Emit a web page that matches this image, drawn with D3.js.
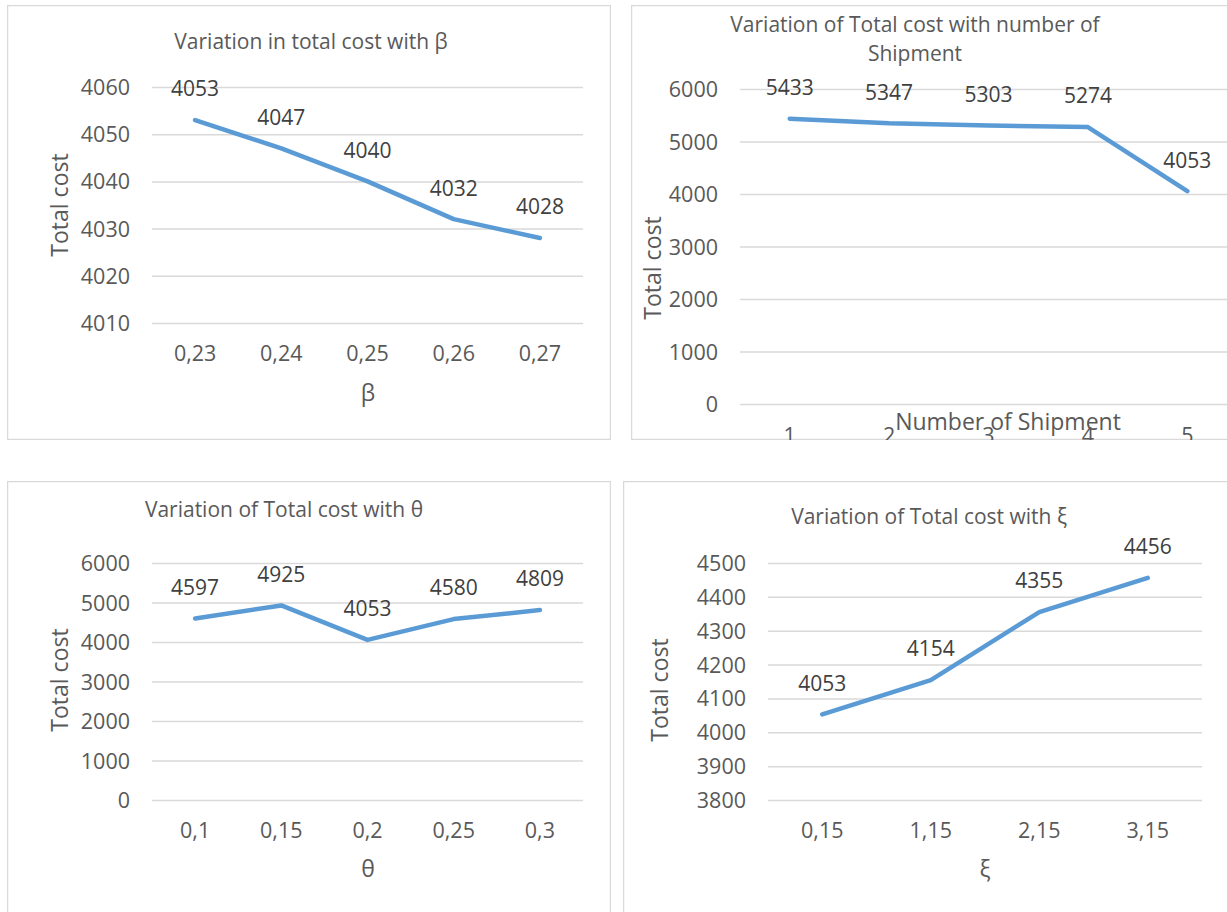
<!DOCTYPE html>
<html>
<head>
<meta charset="utf-8">
<script src="https://cdn.jsdelivr.net/npm/d3@7"></script>
<style>
  html, body { margin: 0; padding: 0; background: #fff; }
  svg { display: block; }
  text { font-family: "Open Sans", "Noto Sans", sans-serif; }
</style>
</head>
<body>
<svg id="chart" width="1227" height="912"></svg>
<script>
// ---------- DATA ----------
const betaCats = ["0,23", "0,24", "0,25", "0,26", "0,27"];
const betaCost = [4053, 4047, 4040, 4032, 4028];
const betaTicks = [4010, 4020, 4030, 4040, 4050, 4060];

const shipCats = ["1", "2", "3", "4", "5"];
const shipCost = [5433, 5347, 5303, 5274, 4053];
const shipTicks = [0, 1000, 2000, 3000, 4000, 5000, 6000];

const thetaCats = ["0,1", "0,15", "0,2", "0,25", "0,3"];
const thetaCost = [4597, 4925, 4053, 4580, 4809];
const thetaTicks = [0, 1000, 2000, 3000, 4000, 5000, 6000];

const xiCats = ["0,15", "1,15", "2,15", "3,15"];
const xiCost = [4053, 4154, 4355, 4456];
const xiTicks = [3800, 3900, 4000, 4100, 4200, 4300, 4400, 4500];

const titles = [
  ["Variation in total cost with β"],
  ["Variation of Total cost with number of", "Shipment"],
  ["Variation of Total cost with θ"],
  ["Variation of Total cost with ξ"]
];
const xTitles = ["β", "Number of Shipment", "θ", "ξ"];
const yTitle = "Total cost";

// ---------- LAYOUT ----------
const panels = [
  { cats: betaCats, vals: betaCost, ticks: betaTicks, title: titles[0], xTitle: xTitles[0],
    box: [7, 5, 604, 435], px: [152, 583], py: [323, 87],
    tickY: 353, xTitlePos: [368, 393], yTitlePos: [60, 205], titlePos: [311, 42], titleLH: 29 },
  { cats: shipCats, vals: shipCost, ticks: shipTicks, title: titles[1], xTitle: xTitles[1],
    box: [631, 5, 700, 435], px: [740, 1237], py: [404, 89],
    tickY: 435, xTitlePos: [1008, 422], yTitlePos: [653, 268], titlePos: [915, 25], titleLH: 29 },
  { cats: thetaCats, vals: thetaCost, ticks: thetaTicks, title: titles[2], xTitle: xTitles[2],
    box: [7, 481, 604, 500], px: [152, 583], py: [800, 563],
    tickY: 830, xTitlePos: [368, 869], yTitlePos: [60, 680], titlePos: [284, 510], titleLH: 29 },
  { cats: xiCats, vals: xiCost, ticks: xiTicks, title: titles[3], xTitle: xTitles[3],
    box: [623, 481, 700, 500], px: [768, 1202], py: [800, 563],
    tickY: 830, xTitlePos: [985, 869], yTitlePos: [660, 690], titlePos: [929, 517], titleLH: 29 }
];

const svg = d3.select("#chart");
const defs = svg.append("defs");
const textCol = "#595959";
const labelCol = "#404040";
const gridCol = "#d9d9d9";
const lineCol = "#5b9bd5";
const tickFS = "21.5px", labelFS = "21px", titleFS = "21px", axisTitleFS = "23px";

panels.forEach((p, i) => {
  const [bx, by, bw, bh] = p.box;
  defs.append("clipPath").attr("id", "clip" + i)
    .append("rect").attr("x", bx).attr("y", by).attr("width", bw).attr("height", bh);
  const g = svg.append("g").attr("clip-path", `url(#clip${i})`);

  g.append("rect").attr("x", bx + 0.5).attr("y", by + 0.5)
    .attr("width", bw - 1).attr("height", bh - 1)
    .attr("fill", "#fff").attr("stroke", gridCol).attr("stroke-width", 1.5);

  const x = d3.scaleBand().domain(p.cats).range(p.px);
  const y = d3.scaleLinear().domain([p.ticks[0], p.ticks[p.ticks.length - 1]]).range(p.py);

  // gridlines via axis
  const yGrid = g.append("g").attr("transform", `translate(${p.px[0]},0)`)
    .call(d3.axisLeft(y).tickValues(p.ticks).tickSize(-(p.px[1] - p.px[0])).tickFormat(""));
  yGrid.select(".domain").remove();
  yGrid.selectAll("line").attr("stroke", gridCol).attr("stroke-width", 1.5);

  // y tick labels
  const yAx = g.append("g").attr("transform", `translate(${p.px[0] - 22},0)`)
    .call(d3.axisLeft(y).tickValues(p.ticks).tickSize(0).tickPadding(0).tickFormat(d3.format("d")));
  yAx.attr("font-size", null).attr("font-family", null);
  yAx.select(".domain").remove();
  yAx.selectAll("text").attr("fill", textCol).style("font-size", tickFS)
    .style("font-family", '"Open Sans", sans-serif').attr("dy", "0.35em");

  // x tick labels
  const xAx = g.append("g").attr("transform", `translate(0,${p.tickY})`)
    .call(d3.axisBottom(x).tickSize(0).tickPadding(0));
  xAx.attr("font-size", null).attr("font-family", null);
  xAx.select(".domain").remove();
  xAx.selectAll("text").attr("fill", textCol).style("font-size", tickFS)
    .style("font-family", '"Open Sans", sans-serif').attr("dy", "0.35em").attr("y", 0);

  // line
  const line = d3.line().x((d, j) => x(p.cats[j]) + x.bandwidth() / 2).y(d => y(d));
  g.append("path").datum(p.vals).attr("d", line)
    .attr("fill", "none").attr("stroke", lineCol).attr("stroke-width", 4.5)
    .attr("stroke-linecap", "round").attr("stroke-linejoin", "round");

  // data labels
  g.selectAll(".dl").data(p.vals).enter().append("text")
    .attr("x", (d, j) => x(p.cats[j]) + x.bandwidth() / 2)
    .attr("y", d => y(d) - 31)
    .attr("dy", "0.35em").attr("text-anchor", "middle")
    .attr("fill", labelCol).style("font-size", labelFS)
    .text(d => d);

  // title
  p.title.forEach((t, k) => {
    g.append("text").attr("x", p.titlePos[0]).attr("y", p.titlePos[1] + k * p.titleLH)
      .attr("dy", "0.35em").attr("text-anchor", "middle")
      .attr("fill", textCol).style("font-size", titleFS).text(t);
  });

  // x title
  g.append("text").attr("x", p.xTitlePos[0]).attr("y", p.xTitlePos[1])
    .attr("dy", "0.35em").attr("text-anchor", "middle")
    .attr("fill", textCol).style("font-size", axisTitleFS).text(p.xTitle);

  // y title
  g.append("text").attr("transform", `translate(${p.yTitlePos[0]},${p.yTitlePos[1]}) rotate(-90)`)
    .attr("dy", "0.35em").attr("text-anchor", "middle")
    .attr("fill", textCol).style("font-size", axisTitleFS).text(yTitle);
});
</script>
</body>
</html>
